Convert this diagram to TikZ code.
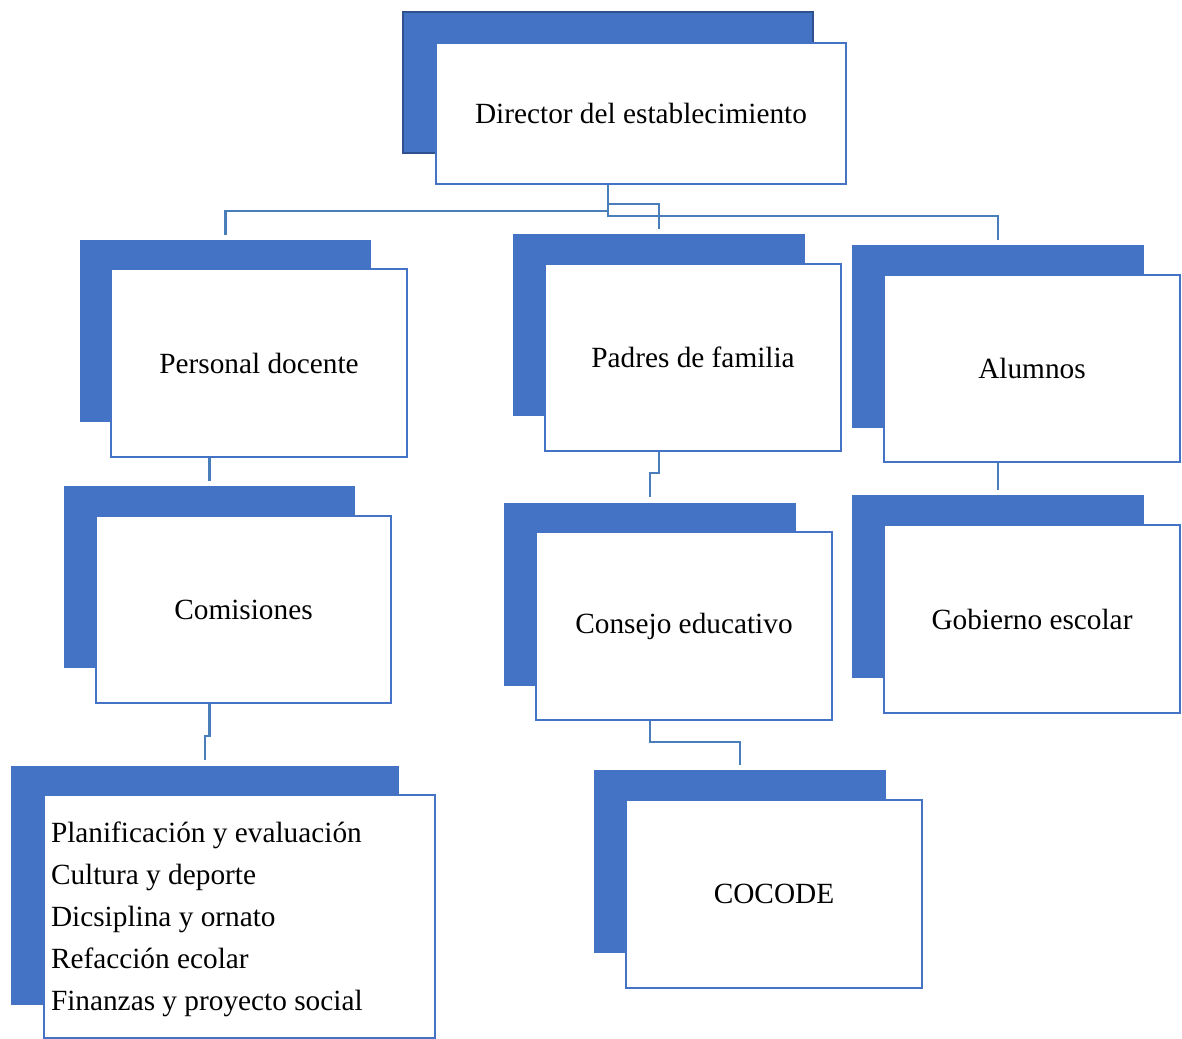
\documentclass[tikz,border=0pt]{standalone}
\usepackage{fontspec}
\setmainfont{Liberation Serif}
\definecolor{ofblue}{HTML}{4472C4}
\definecolor{ofdark}{HTML}{2F528F}
\definecolor{conblue}{HTML}{4A7EBB}
\begin{document}
\begin{tikzpicture}[x=1pt,y=-1pt,
  backbox/.style={fill=ofblue,draw=none,anchor=north west,inner sep=0pt},
  frontbox/.style={fill=white,draw=ofblue,line width=2pt,anchor=north west,inner sep=0pt,
    font=\fontsize{29.3}{42}\selectfont},
  conn/.style={draw=conblue,line width=2.5pt}]
\useasboundingbox (0,0) rectangle (1182,1038);
% Director
\node[backbox,draw=ofdark,line width=2pt,minimum width=410pt,minimum height=141pt] (dirB) at (402,11) {};
\node[frontbox,minimum width=410pt,minimum height=141pt] (dir) at (435,42) {Director del establecimiento};
% Personal docente
\node[backbox,minimum width=291pt,minimum height=182pt] (pdB) at (80,240) {};
\node[frontbox,minimum width=296pt,minimum height=188pt] (pd) at (110,268) {Personal docente};
% Padres de familia
\node[backbox,minimum width=292pt,minimum height=182pt] (padB) at (513,234) {};
\node[frontbox,minimum width=296pt,minimum height=187pt] (pad) at (544,263) {Padres de familia};
% Alumnos
\node[backbox,minimum width=292pt,minimum height=183pt] (alB) at (852,245) {};
\node[frontbox,minimum width=296pt,minimum height=187pt] (al) at (883,274) {Alumnos};
% Comisiones
\node[backbox,minimum width=291pt,minimum height=182pt] (comB) at (64,486) {};
\node[frontbox,minimum width=295pt,minimum height=187pt] (com) at (95,515) {Comisiones};
% Planificacion
\node[backbox,minimum width=388pt,minimum height=239pt] (planB) at (11,766) {};
\node[frontbox,minimum width=391pt,minimum height=243pt,inner xsep=7pt] (plan) at (43,794)
  {\raisebox{-3pt}[\height][\depth]{\parbox{377pt}{\raggedright Planificación y evaluación\\Cultura y deporte\\Dicsiplina y ornato\\Refacción ecolar\\Finanzas y proyecto social}}};
% Consejo educativo
\node[backbox,minimum width=292pt,minimum height=183pt] (consB) at (504,503) {};
\node[frontbox,minimum width=296pt,minimum height=188pt] (cons) at (535,531) {Consejo educativo};
% COCODE
\node[backbox,minimum width=292pt,minimum height=183pt] (cocB) at (594,770) {};
\node[frontbox,minimum width=296pt,minimum height=188pt] (coc) at (625,799) {COCODE};
% Gobierno escolar
\node[backbox,minimum width=292pt,minimum height=183pt] (gobB) at (852,495) {};
\node[frontbox,minimum width=296pt,minimum height=188pt] (gob) at (883,524) {Gobierno escolar};
% connectors
\coordinate (dtop) at (dirB.south |- dir.south);
\draw[conn,shorten >=5pt] (dtop) -- ++(0,26) -| (pdB.north);
\draw[conn,shorten >=5pt] (dtop) -- ++(0,19) -| (padB.north);
\draw[conn,shorten >=5pt] (dtop) -- ++(0,31) -| (alB.north);
\draw[conn,shorten >=5pt] (comB.north |- pd.south) -- (comB.north);
\draw[conn,shorten >=6pt] (comB.north |- com.south) -- ++(0,32) -| (planB.north);
\draw[conn,shorten >=6pt] (padB.north |- pad.south) -- ++(0,21) -| (consB.north);
\draw[conn,shorten >=5pt] (consB.north |- cons.south) -- ++(0,21) -| (cocB.north);
\draw[conn,shorten >=5pt] (alB.north |- al.south) -- (gobB.north);
\end{tikzpicture}
\end{document}
